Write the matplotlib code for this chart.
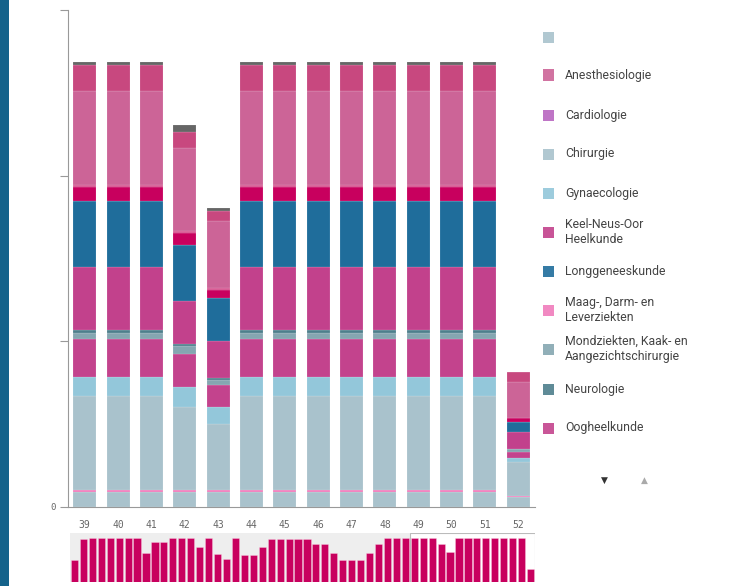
import matplotlib
matplotlib.use("Agg")
import matplotlib.pyplot as plt
from matplotlib.patches import Rectangle
import numpy as np

weeks = ["39", "40", "41", "42", "43", "44", "45", "46", "47", "48", "49", "50", "51", "52"]

# stacked series, bottom to top (values per week 39..52)
blank      = [4.5, 4.5, 4.5, 4.5, 4.5, 4.5, 4.5, 4.5, 4.5, 4.5, 4.5, 4.5, 4.5, 3.0]
mdl        = [0.7, 0.7, 0.7, 0.7, 0.7, 0.7, 0.7, 0.7, 0.7, 0.7, 0.7, 0.7, 0.7, 0.3]
chirurgie  = [28.3, 28.3, 28.3, 25.0, 19.8, 28.3, 28.3, 28.3, 28.3, 28.3, 28.3, 28.3, 28.3, 10.3]
gynaeco    = [5.7, 5.7, 5.7, 6.0, 5.1, 5.7, 5.7, 5.7, 5.7, 5.7, 5.7, 5.7, 5.7, 1.2]
oog        = [11.5, 11.5, 11.5, 10.0, 6.6, 11.5, 11.5, 11.5, 11.5, 11.5, 11.5, 11.5, 11.5, 1.8]
mka        = [1.8, 1.8, 1.8, 2.4, 1.5, 1.8, 1.8, 1.8, 1.8, 1.8, 1.8, 1.8, 1.8, 0.9]
neuro      = [0.9, 0.9, 0.9, 0.6, 0.6, 0.9, 0.9, 0.9, 0.9, 0.9, 0.9, 0.9, 0.9, 0.0]
kno        = [19.0, 19.0, 19.0, 13.0, 11.2, 19.0, 19.0, 19.0, 19.0, 19.0, 19.0, 19.0, 19.0, 5.1]
long_      = [19.9, 19.9, 19.9, 16.9, 13.0, 19.9, 19.9, 19.9, 19.9, 19.9, 19.9, 19.9, 19.9, 3.0]
ortho      = [4.2, 4.2, 4.2, 3.6, 2.4, 4.2, 4.2, 4.2, 4.2, 4.2, 4.2, 4.2, 4.2, 1.2]
plast      = [0.6, 0.6, 0.6, 0.6, 0.6, 0.6, 0.6, 0.6, 0.6, 0.6, 0.6, 0.6, 0.6, 0.0]
anesth     = [28.4, 28.4, 28.4, 25.1, 20.2, 28.4, 28.4, 28.4, 28.4, 28.4, 28.4, 28.4, 28.4, 10.9]
uro        = [7.8, 7.8, 7.8, 4.8, 3.0, 7.8, 7.8, 7.8, 7.8, 7.8, 7.8, 7.8, 7.8, 3.0]
overig     = [0.9, 0.9, 0.9, 2.1, 0.9, 0.9, 0.9, 0.9, 0.9, 0.9, 0.9, 0.9, 0.9, 0.0]
cardio     = [0.0] * 14

# navigator: weekly totals for weeks 1..38 (39..52 come from the stack)
nav_totals_1_38 = [68, 131, 134, 134, 134, 134, 134, 134, 88, 122, 121, 134, 134, 134,
                   107, 134, 86, 71, 134, 82, 82, 107, 130, 130, 130, 130, 130, 115,
                   115, 88, 68, 68, 68, 88, 115, 134, 134, 134]

# (label, values, colour) ; legend order is alphabetical
series = [
    ("", blank, "#a9c2cc"),
    ("Anesthesiologie", anesth, "#cc6497"),
    ("Cardiologie", cardio, "#b866c0"),
    ("Chirurgie", chirurgie, "#a9c2cc"),
    ("Gynaecologie", gynaeco, "#93c7da"),
    ("Keel-Neus-Oor\nHeelkunde", kno, "#c2418c"),
    ("Longgeneeskunde", long_, "#1f6d9b"),
    ("Maag-, Darm- en\nLeverziekten", mdl, "#f07cbc"),
    ("Mondziekten, Kaak- en\nAangezichtschirurgie", mka, "#85a6b1"),
    ("Neurologie", neuro, "#4e7f8c"),
    ("Oogheelkunde", oog, "#c3438d"),
    ("Orthopedie", ortho, "#c8005e"),
    ("Plastische Chirurgie", plast, "#d6528f"),
    ("Urologie", uro, "#c8487f"),
    ("Overig", overig, "#666666"),
]
stack_order = ["", "Maag-, Darm- en\nLeverziekten", "Chirurgie", "Gynaecologie", "Oogheelkunde",
               "Mondziekten, Kaak- en\nAangezichtschirurgie", "Neurologie", "Keel-Neus-Oor\nHeelkunde",
               "Longgeneeskunde", "Cardiologie", "Orthopedie", "Plastische Chirurgie",
               "Anesthesiologie", "Urologie", "Overig"]
legend_count = 11

W, H = 729, 586
fig = plt.figure(figsize=(W / 100, H / 100), dpi=100)
fig.patch.set_facecolor("white")
fig.patches.append(Rectangle((0, 0), 9 / W, 1, transform=fig.transFigure,
                             facecolor="#15638b", edgecolor="none", zorder=0))

ax = fig.add_axes([68 / W, 1 - 507 / H, (535 - 68) / W, (507 - 10) / H])
x = np.arange(len(weeks))
lookup = {s[0]: s for s in series}
bottom = np.zeros(len(weeks))
for name in stack_order:
    _, vals, col = lookup[name]
    v = np.array(vals, dtype=float)
    ax.bar(x, v, width=0.69, bottom=bottom, color=col,
           edgecolor=(1, 1, 1, 0.35), linewidth=0.3)
    bottom += v

ax.set_xlim(-0.5, len(weeks) - 0.5)
ax.set_ylim(0, 150)
ax.set_yticks([0, 50, 100, 150])
ax.set_yticklabels(["0", "", "", ""], family="DejaVu Sans Mono", fontsize=6.5, color="#666666")
ax.set_xticks(x)
ax.set_xticklabels(weeks, family="DejaVu Sans Mono", fontsize=7, color="#666666")
ax.tick_params(axis="x", length=0, pad=9)
ax.tick_params(axis="y", length=6, width=0.8, color="#999999", pad=3, direction="out")
for s in ["top", "right"]:
    ax.spines[s].set_visible(False)
for s in ["left", "bottom"]:
    ax.spines[s].set_color("#999999")
    ax.spines[s].set_linewidth(0.8)

# legend (first page)
leg_y = [37, 75, 115, 154, 193, 232, 271, 310, 349, 389, 428]
for (label, _, col), yy in zip(series[:legend_count], leg_y):
    fig.patches.append(Rectangle((543 / W, 1 - (yy + 5.5) / H), 11 / W, 11 / H,
                                 transform=fig.transFigure, facecolor=col,
                                 edgecolor="none", alpha=0.9))
    fig.text(565 / W, 1 - yy / H, label, fontsize=8.8, family="Roboto",
             color="#444444", va="center", ha="left", linespacing=1.15)
fig.text(604 / W, 1 - 480 / H, "\u25bc", fontsize=6.5, color="#333333",
         ha="center", va="center", family="DejaVu Sans")
fig.text(644 / W, 1 - 480 / H, "\u25b2", fontsize=6.5, color="#aaaaaa",
         ha="center", va="center", family="DejaVu Sans")

# navigator
nav = fig.add_axes([70 / W, 1 - 582 / H, (535 - 70) / W, (582 - 533) / H])
nav_totals = list(nav_totals_1_38) + list(bottom)
nx = np.arange(1, len(nav_totals) + 1)
nav.set_facecolor("#eeeeee")
nav.add_patch(Rectangle((38.5, 0), 14, 149.5, facecolor="white", edgecolor="#bbbbbb",
                        linewidth=0.8, zorder=0.5))
nav.bar(nx, nav_totals, width=0.8, color="#c8005e", edgecolor=(1, 0.85, 0.92, 0.6),
        linewidth=0.4, zorder=2)
nav.set_xlim(0.5, len(nav_totals) + 0.5)
nav.set_ylim(0, 149.5)
nav.set_xticks([])
nav.set_yticks([])
for s in nav.spines.values():
    s.set_visible(False)

fig.savefig("out.png", dpi=100)
